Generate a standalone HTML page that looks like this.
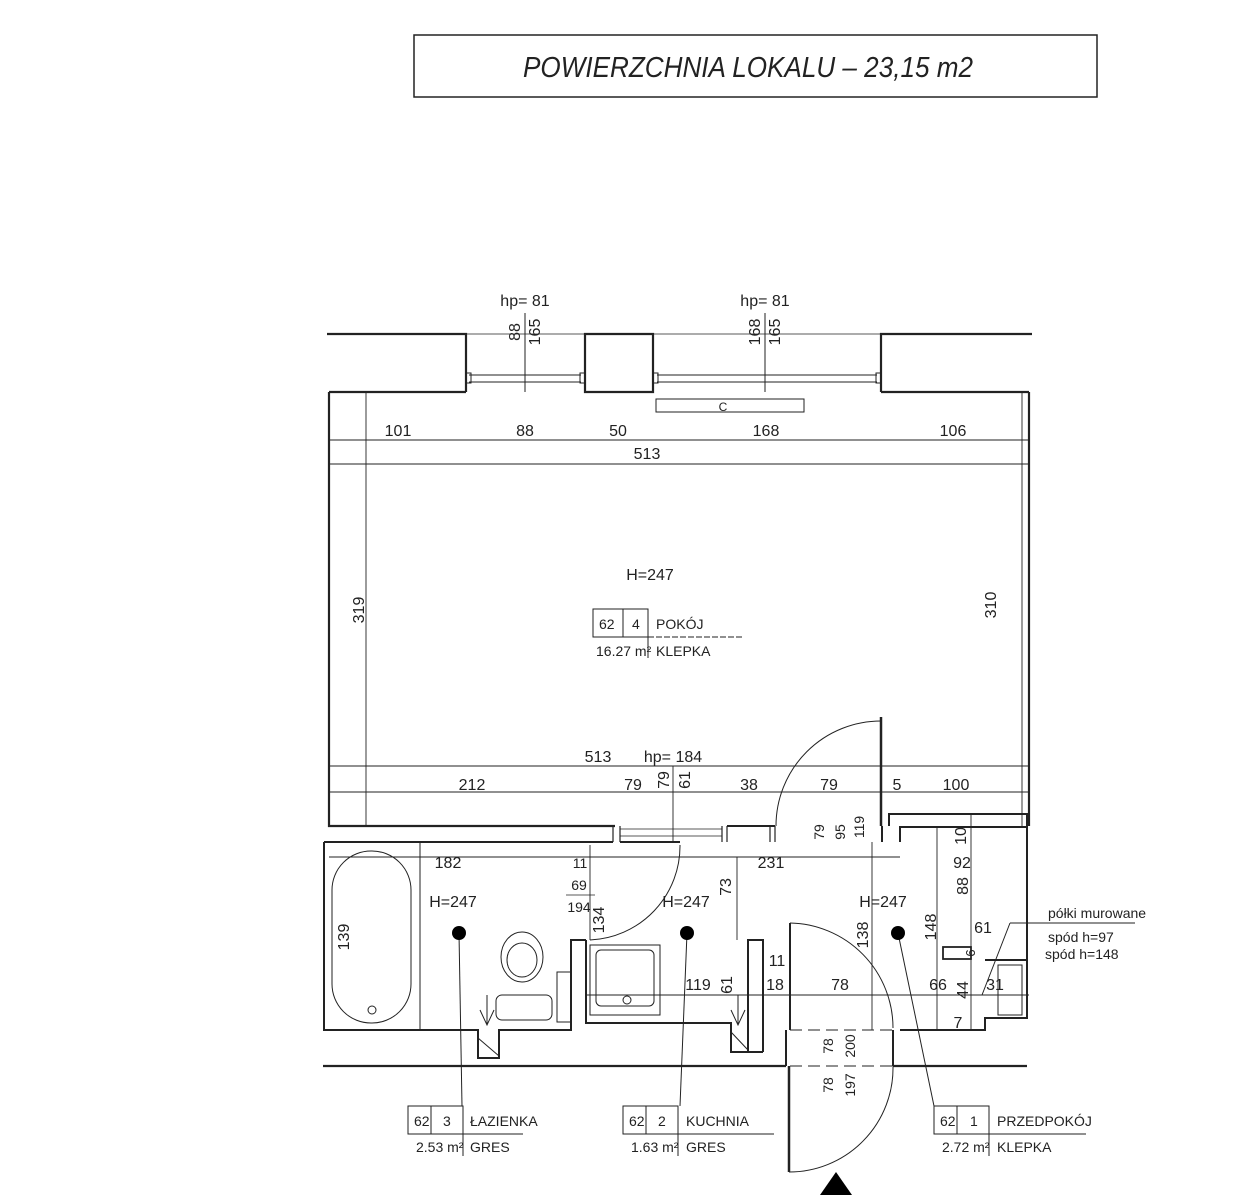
<!DOCTYPE html>
<html><head><meta charset="utf-8"><style>
html,body{margin:0;padding:0;background:#fff;}
svg{display:block;}
text{font-family:"Liberation Sans Narrow","Liberation Sans",sans-serif;fill:#222;}
</style></head><body>
<svg width="1259" height="1200" viewBox="0 0 1259 1200" xmlns="http://www.w3.org/2000/svg">
<rect x="414" y="35" width="683" height="62" fill="#fff" stroke="#222" stroke-width="1.5"/>
<text x="748" y="77" font-size="29" text-anchor="middle" font-style="italic" transform="translate(748,0) scale(0.9,1) translate(-748,0)">POWIERZCHNIA  LOKALU  –  23,15  m2</text>

<g stroke="#222" fill="none">
<path d="M327 334 H466 V392 M466 392 H329 M585 334 H653 V392 H585 Z M881 392 V334 H1032 M881 392 H1029" stroke-width="2.2"/>
<line x1="466" y1="334" x2="881" y2="334" stroke-width="0.8"/>
<g stroke-width="1">
<line x1="469" y1="375" x2="581" y2="375"/><line x1="469" y1="382" x2="581" y2="382"/>
<line x1="657" y1="375" x2="877" y2="375"/><line x1="657" y1="382" x2="877" y2="382"/>
<rect x="466" y="373" width="5" height="10"/><rect x="580" y="373" width="5" height="10"/>
<rect x="653" y="373" width="5" height="10"/><rect x="876" y="373" width="5" height="10"/>
<line x1="525" y1="313" x2="525" y2="392"/><line x1="765" y1="313" x2="765" y2="392"/>
</g>
<rect x="656" y="399" width="148" height="13" stroke-width="1"/>
<path d="M329 392 V826 H615 M1029 392 V826" stroke-width="2.2"/>
<path d="M613 826 V842 M620 826 V842 M722 826 V842 M727 826 V842 M770 826 V842 M775 826 V842" stroke-width="1.2"/>
<line x1="620" y1="829" x2="722" y2="829" stroke-width="0.8"/><line x1="620" y1="836" x2="722" y2="836" stroke-width="0.8"/>
<path d="M727 826 H775" stroke-width="2"/>
<g stroke-width="0.9">
<line x1="366" y1="392" x2="366" y2="826"/><line x1="1022" y1="392" x2="1022" y2="826"/>
<line x1="329" y1="440" x2="1029" y2="440"/><line x1="329" y1="464" x2="1029" y2="464"/>
<line x1="329" y1="766" x2="1029" y2="766"/><line x1="329" y1="792" x2="1029" y2="792"/>
<line x1="329" y1="857" x2="900" y2="857"/><line x1="586" y1="995" x2="1029" y2="995"/>
<line x1="872" y1="842" x2="872" y2="1030"/><line x1="937" y1="827" x2="937" y2="1030"/><line x1="971" y1="814" x2="971" y2="1030"/>
<line x1="737" y1="857" x2="737" y2="940"/>
<line x1="590" y1="845" x2="590" y2="940"/>
<line x1="673" y1="766" x2="673" y2="842"/>
</g>
<path d="M881 717 V826" stroke-width="2.5"/>
<path d="M881 721 A105 105 0 0 0 776 826" stroke-width="1"/>
<path d="M882 826 V842 M889 826 V814 H1027 V826 M900 842 V827 H1027 V1018 H985 V1030 H900 M985 960 H1027" stroke-width="2"/>
<rect x="943" y="947" width="28" height="12" stroke-width="1.8"/>
<rect x="998" y="965" width="24" height="50" stroke-width="1"/>
<path d="M324 842 H613 M324 842 V1030 H478 V1058 H499 V1030 H571 V940 H586 M586 940 V1023 H731 V1052 H748 V1023 M748 1052 V940 H763 V1052 M790 923 V1030 M763 1052 H748" stroke-width="2"/>
<path d="M620 842 H680" stroke-width="2"/>
<line x1="420" y1="842" x2="420" y2="1030" stroke-width="1"/>
<rect x="332" y="851" width="79" height="172" rx="39" stroke-width="1"/>
<circle cx="372" cy="1010" r="4" stroke-width="1"/>
<ellipse cx="522" cy="957" rx="21" ry="25" stroke-width="1"/>
<ellipse cx="522" cy="960" rx="15" ry="17" stroke-width="1"/>
<rect x="496" y="995" width="56" height="25" rx="6" stroke-width="1"/>
<rect x="557" y="972" width="14" height="50" stroke-width="1"/>
<rect x="590" y="945" width="70" height="70" stroke-width="1"/>
<rect x="596" y="950" width="58" height="56" rx="5" stroke-width="1"/>
<circle cx="627" cy="1000" r="4" stroke-width="1"/>
<line x1="478" y1="1038" x2="499" y2="1056" stroke-width="1"/>
<line x1="731" y1="1032" x2="748" y2="1050" stroke-width="1"/>
<path d="M487 995 V1025 M480 1010 L487 1025 L494 1010 M738 995 V1025 M731 1010 L738 1025 L745 1010" stroke-width="1"/>
<path d="M680 845 A94 94 0 0 1 590 940" stroke-width="1"/>
<path d="M790 923 A105 105 0 0 1 893 1028" stroke-width="1"/>
<path d="M789 1066 V1172" stroke-width="2.5"/>
<path d="M789 1172 A104 104 0 0 0 893 1066" stroke-width="1"/>
<path d="M893 1030 V1066 M786 1030 V1066" stroke-width="2"/>
<path d="M790 1030 H893 M790 1066 H893" stroke-width="1" stroke-dasharray="12,6"/>
<path d="M323 1066 H786 M893 1066 H1027" stroke-width="2.2"/>
<g stroke-width="1">
<line x1="459" y1="933" x2="462" y2="1106"/>
<line x1="687" y1="933" x2="680" y2="1106"/>
<line x1="898" y1="933" x2="934" y2="1106"/>
<line x1="1010" y1="923" x2="1135" y2="923"/>
<line x1="1010" y1="923" x2="982" y2="995"/>
</g>
<g stroke-width="1">
<path d="M408 1106 H463 V1134 H408 Z M431 1106 V1134 M463 1134 V1156 M463 1134 H523"/>
<path d="M623 1106 H678 V1134 H623 Z M646 1106 V1134 M678 1134 V1156 M678 1134 H774"/>
<path d="M934 1106 H989 V1134 H934 Z M957 1106 V1134 M989 1134 V1156 M989 1134 H1086"/>
<path d="M593 609 H648 V637 H593 Z M623 609 V637 M648 637 V658"/>
<path d="M648 637 H743" stroke-dasharray="6,2"/>
</g>
</g>
<circle cx="459" cy="933" r="7" fill="#000"/>
<circle cx="687" cy="933" r="7" fill="#000"/>
<circle cx="898" cy="933" r="7" fill="#000"/>
<polygon points="820,1195 852,1195 836,1172" fill="#000"/>

<g font-size="16" text-anchor="middle">
<text x="525" y="306">hp= 81</text><text x="765" y="306">hp= 81</text>
<text transform="translate(520,332) rotate(-90)">88</text><text transform="translate(540,332) rotate(-90)">165</text>
<text transform="translate(760,332) rotate(-90)">168</text><text transform="translate(780,332) rotate(-90)">165</text>
<text x="723" y="411" font-size="12">C</text>
<text x="398" y="436">101</text><text x="525" y="436">88</text><text x="618" y="436">50</text><text x="766" y="436">168</text><text x="953" y="436">106</text>
<text x="647" y="459">513</text>
<text x="650" y="580">H=247</text>
<text transform="translate(364,610) rotate(-90)">319</text>
<text transform="translate(996,605) rotate(-90)">310</text>
<text x="598" y="762">513</text><text x="673" y="762">hp= 184</text>
<text x="472" y="790">212</text><text x="633" y="790">79</text>
<text transform="translate(669,780) rotate(-90)">79</text><text transform="translate(690,780) rotate(-90)">61</text>
<text x="749" y="790">38</text><text x="829" y="790">79</text><text x="897" y="790">5</text><text x="956" y="790">100</text>
<text x="448" y="868">182</text><text x="580" y="868" font-size="14">11</text><text x="771" y="868">231</text>
<text x="579" y="890" font-size="14">69</text><text x="579" y="912" font-size="14">194</text>
<line x1="566" y1="895" x2="595" y2="895" stroke="#222" stroke-width="0.8"/>
<text transform="translate(604,920) rotate(-90)">134</text>
<text transform="translate(731,887) rotate(-90)">73</text>
<text x="453" y="907">H=247</text><text x="686" y="907">H=247</text><text x="883" y="907">H=247</text>
<text transform="translate(349,937) rotate(-90)">139</text>
<text transform="translate(868,935) rotate(-90)">138</text>
<text transform="translate(936,927) rotate(-90)">148</text>
<text transform="translate(966,836) rotate(-90)">10</text>
<text x="962" y="868">92</text>
<text transform="translate(968,886) rotate(-90)">88</text>
<text x="983" y="933">61</text>
<text transform="translate(966,953) rotate(90)" font-size="13">9</text>
<text x="938" y="990">66</text>
<text transform="translate(968,990) rotate(-90)">44</text>
<text x="995" y="990">31</text>
<text x="958" y="1028">7</text>
<text x="698" y="990">119</text>
<text transform="translate(732,985) rotate(-90)">61</text>
<text x="777" y="966">11</text><text x="775" y="990">18</text><text x="840" y="990">78</text>
<text transform="translate(824,832) rotate(-90)" font-size="14">79</text>
<text transform="translate(845,832) rotate(-90)" font-size="14">95</text>
<text transform="translate(864,827) rotate(-90)" font-size="14">119</text>
<text transform="translate(833,1046) rotate(-90)" font-size="14">78</text>
<text transform="translate(855,1046) rotate(-90)" font-size="14">200</text>
<text transform="translate(833,1085) rotate(-90)" font-size="14">78</text>
<text transform="translate(855,1085) rotate(-90)" font-size="14">197</text>
</g>
<g font-size="14" text-anchor="start">
<text x="1048" y="918">półki murowane</text>
<text x="1048" y="942">spód h=97</text>
<text x="1045" y="959">spód h=148</text>
<text x="599" y="629">62</text><text x="632" y="629">4</text><text x="656" y="629">POKÓJ</text>
<text x="596" y="656">16.27 m²</text><text x="656" y="656">KLEPKA</text>
<text x="414" y="1126">62</text><text x="443" y="1126">3</text><text x="470" y="1126">ŁAZIENKA</text>
<text x="416" y="1152">2.53 m²</text><text x="470" y="1152">GRES</text>
<text x="629" y="1126">62</text><text x="658" y="1126">2</text><text x="686" y="1126">KUCHNIA</text>
<text x="631" y="1152">1.63 m²</text><text x="686" y="1152">GRES</text>
<text x="940" y="1126">62</text><text x="970" y="1126">1</text><text x="997" y="1126">PRZEDPOKÓJ</text>
<text x="942" y="1152">2.72 m²</text><text x="997" y="1152">KLEPKA</text>
</g>
</svg>
</body></html>
